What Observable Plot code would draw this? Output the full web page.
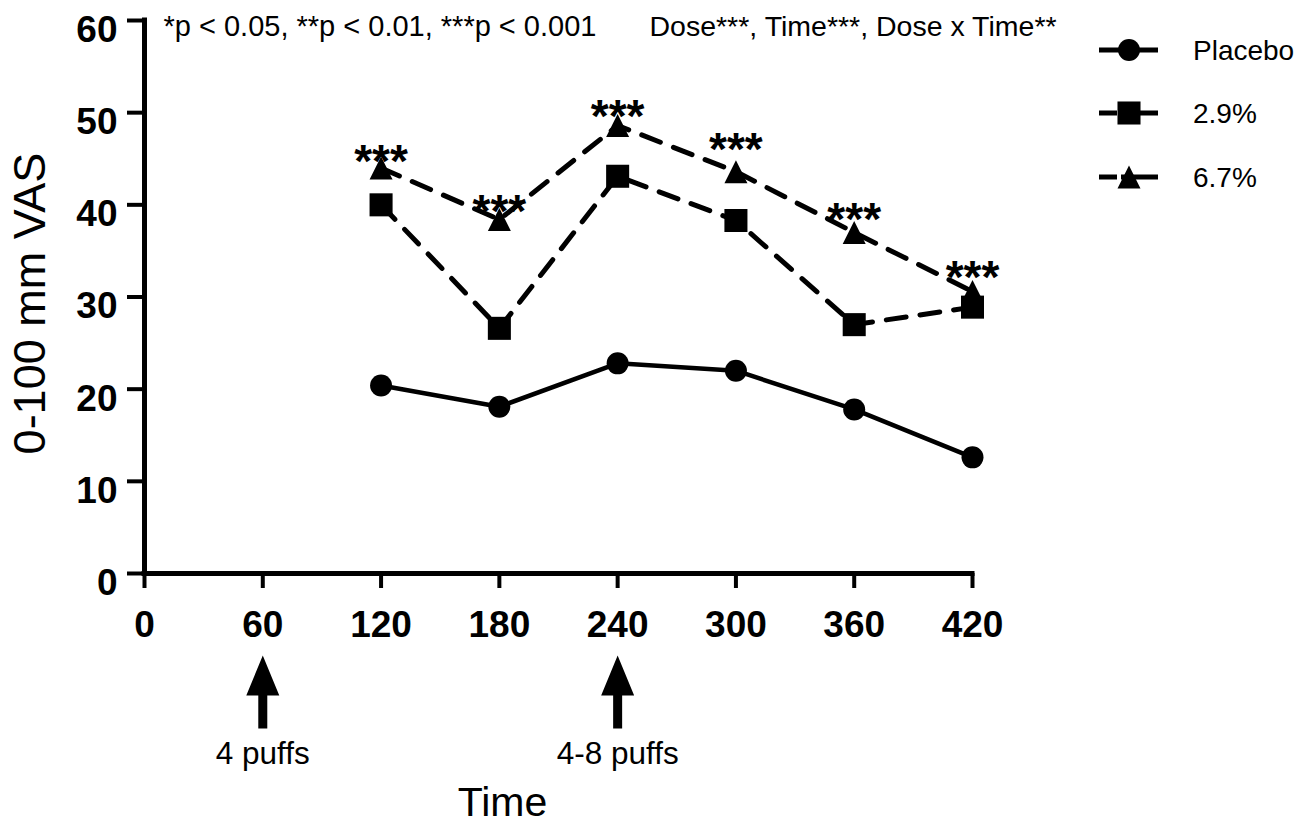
<!DOCTYPE html>
<html>
<head>
<meta charset="utf-8">
<script src="https://cdn.jsdelivr.net/npm/d3@7"></script>
<script src="https://cdn.jsdelivr.net/npm/@observablehq/plot@0.6"></script>
<style>
  html, body { margin: 0; padding: 0; background: #fff; }
  #wrap { position: relative; width: 1314px; height: 823px; font-family: "Liberation Sans", Arial, sans-serif; }
  #legend { position: absolute; left: 1090px; top: 20px; }
</style>
</head>
<body>
<div id="wrap"><div id="chart"></div><svg id="legend" width="224" height="190"></svg></div>
<script>
// ---- data ----
const times = [120, 180, 240, 300, 360, 420];
const placebo = [20.4, 18.1, 22.8, 22.0, 17.8, 12.6];
const dose29 = [40.0, 26.6, 43.1, 38.3, 27.0, 28.9];
const dose67 = [44.0, 38.4, 48.6, 43.6, 37.0, 30.6];
const seriesNames = ["Placebo", "2.9%", "6.7%"];
const starLabels = ["***", "***", "***", "***", "***", "***"];
const starY = [46.0, 40.5, 50.8, 47.2, 39.7, 33.4];
const xTicks = [0, 60, 120, 180, 240, 300, 360, 420];
const yTicks = [0, 10, 20, 30, 40, 50, 60];
const arrowTimes = [60, 240];
const arrowLabels = ["4 puffs", "4-8 puffs"];
const pNote = "*p < 0.05, **p < 0.01, ***p < 0.001";
const effectNote = "Dose***, Time***, Dose x Time**";
const xLabel = "Time";
const yLabel = "0-100 mm VAS";

// ---- tables ----
const seriesValues = [placebo, dose29, dose67];
const rows = seriesNames.flatMap((s, k) => times.map((t, i) => ({series: s, time: t, value: seriesValues[k][i]})));
const rowsOf = s => rows.filter(d => d.series === s);
const stars = times.map((t, i) => ({time: t, y: starY[i], text: starLabels[i]}));

// ---- custom symbols ----
const triangle = {draw(ctx, size) { const r = Math.sqrt(size / Math.PI); ctx.moveTo(0, -r); ctx.lineTo(r, r); ctx.lineTo(-r, r); ctx.closePath(); }};
const upArrow = {draw(ctx) {
  ctx.moveTo(0, 82); ctx.lineTo(16.5, 122); ctx.lineTo(4.5, 122); ctx.lineTo(4.5, 155);
  ctx.lineTo(-4.5, 155); ctx.lineTo(-4.5, 122); ctx.lineTo(-16.5, 122); ctx.closePath();
}};

const font = "Liberation Sans, Arial, sans-serif";
const DASH = "20,14";

const chart = Plot.plot({
  width: 1314, height: 823,
  marginLeft: 144, marginRight: 342, marginTop: 20, marginBottom: 250,
  x: {domain: [0, 420], label: null},
  y: {domain: [0, 60], label: null},
  style: {fontFamily: font, color: "black", background: "white", overflow: "visible"},
  marks: [
    // axes
    Plot.axisX(xTicks, {tickSize: 15, strokeWidth: 4, tickPadding: 22, fontSize: 37, fontWeight: "bold", label: null}),
    Plot.axisY(yTicks, {tickSize: 17, strokeWidth: 4, tickFormat: () => "", label: null}),
    Plot.axisY(yTicks, {tickSize: 0, tickPadding: 27, dy: 9.5, fontSize: 37, fontWeight: "bold", label: null}),
    Plot.ruleX([0], {strokeWidth: 5, strokeLinecap: "square"}),
    Plot.ruleY([0], {strokeWidth: 5, strokeLinecap: "square"}),
    // series
    Plot.line(rowsOf("Placebo"), {x: "time", y: "value", strokeWidth: 4.5}),
    Plot.line(rows.filter(d => d.series !== "Placebo"), {x: "time", y: "value", z: "series", strokeWidth: 5, strokeDasharray: DASH}),
    Plot.dot(rowsOf("Placebo"), {x: "time", y: "value", r: 11, fill: "black", stroke: "none", symbol: "circle"}),
    Plot.dot(rowsOf("2.9%"), {x: "time", y: "value", r: 13, fill: "black", stroke: "none", symbol: "square"}),
    Plot.dot(rowsOf("6.7%"), {x: "time", y: "value", r: 11.5, fill: "black", stroke: "none", symbol: triangle}),
    // significance stars
    Plot.text(stars, {x: "time", y: "y", text: "text", fontSize: 46, fontWeight: "bold", lineAnchor: "bottom", dy: 27}),
    // notes
    Plot.text([pNote], {frameAnchor: "top-left", textAnchor: "start", lineAnchor: "bottom", dx: 19, dy: 15, fontSize: 29}),
    Plot.text([effectNote], {frameAnchor: "top-left", textAnchor: "start", lineAnchor: "bottom", dx: 505, dy: 15, fontSize: 28.5}),
    // dosing arrows
    Plot.dot(arrowTimes, {x: d => d, frameAnchor: "bottom", symbol: upArrow, r: 1, fill: "black", stroke: "none"}),
    Plot.text(arrowLabels, {x: (d, i) => arrowTimes[i], frameAnchor: "bottom", lineAnchor: "bottom", dy: 190, fontSize: 31.5}),
    // axis titles
    Plot.text([xLabel], {frameAnchor: "bottom", lineAnchor: "bottom", dx: -56, dy: 242, fontSize: 41}),
    Plot.text([yLabel], {frameAnchor: "left", textAnchor: "middle", rotate: -90, dx: -114, dy: 6.5, fontSize: 45})
  ]
});
document.getElementById("chart").appendChild(chart);

// ---- legend ----
const leg = d3.select("#legend");
const legendRows = [
  {name: seriesNames[0], y: 30, dash: null, sym: d3.symbolCircle, size: Math.PI * 11 * 11},
  {name: seriesNames[1], y: 93, dash: DASH, sym: d3.symbolSquare, size: Math.PI * 13 * 13},
  {name: seriesNames[2], y: 157, dash: DASH, sym: triangle, size: Math.PI * 11.5 * 11.5}
];
for (const r of legendRows) {
  const g = leg.append("g");
  g.append("line").attr("x1", 9).attr("x2", 68).attr("y1", r.y).attr("y2", r.y)
    .attr("stroke", "black").attr("stroke-width", 5)
    .attr("stroke-dasharray", r.dash ? "18,4,100" : null);
  g.append("path").attr("transform", `translate(39,${r.y})`).attr("d", d3.symbol(r.sym, r.size)()).attr("fill", "black");
  g.append("text").attr("x", 103).attr("y", r.y).attr("dy", "0.35em")
    .attr("font-family", font).attr("font-size", 28).text(r.name);
}
</script>
</body>
</html>
